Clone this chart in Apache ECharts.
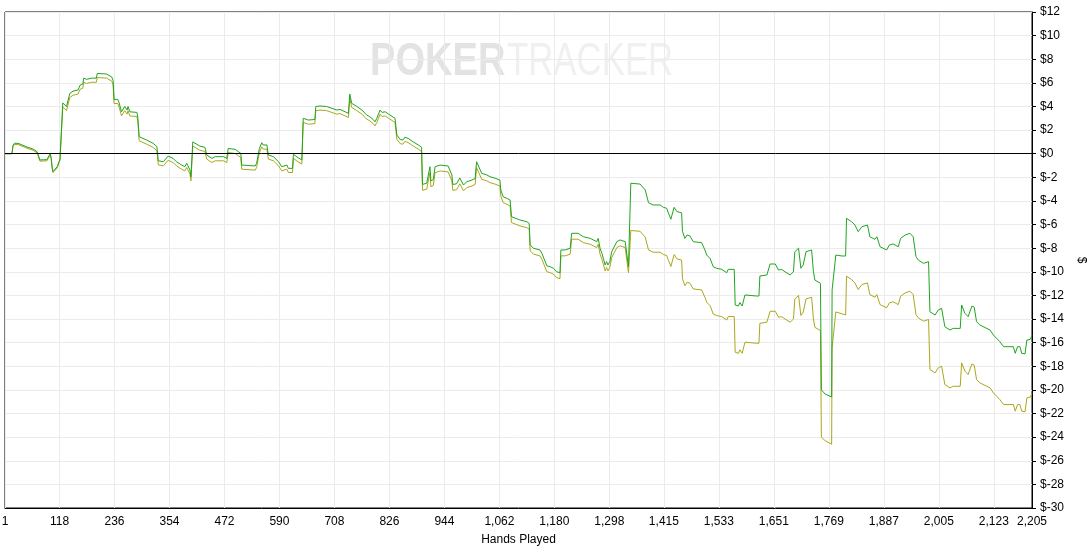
<!DOCTYPE html>
<html>
<head>
<meta charset="utf-8">
<script src="https://cdn.jsdelivr.net/npm/echarts@6/dist/echarts.min.js"></script>
<style>
html,body{margin:0;padding:0;background:#fff;}
#chart{width:1089px;height:547px;}
</style>
</head>
<body>
<div id="chart"></div>
<script>
// Hand ticks shown on the x axis
const xTicks = [1,118,236,354,472,590,708,826,944,1062,1180,1298,1415,1533,1651,1769,1887,2005,2123,2205];
// Y axis range / step ($)
const yMin = -30, yMax = 12, yStep = 2;

// Green line: [hand, $]
const netWon = [[1,0],[16,0],[18,0.7],[21,0.88],[29,0.88],[48,0.57],[61,0.4],[70,0.17],[76,-0.53],[91,-0.5],[98,0],[100,-0.3],[102,-1.1],[104,-1.5],[113,-1.1],[119,-0.45],[123,-0.5],[125,4.3],[133,4.0],[136,3.9],[140,5.1],[147,5.3],[158,5.4],[162,5.8],[168,5.9],[170,6.4],[176,6.3],[187,6.4],[197,6.4],[199,6.8],[219,6.75],[230,6.5],[233,6.2],[235,4.6],[243,4.6],[246,4.3],[251,3.55],[258,4.0],[263,3.7],[265,4.0],[269,3.55],[284,3.5],[286,3.1],[289,1.44],[305,1.16],[319,0.88],[327,0.6],[330,-0.6],[341,-0.68],[351,-0.2],[362,-0.4],[369,-0.68],[380,-0.96],[387,-1.1],[391,-0.81],[398,-1.38],[400,-1.95],[404,1.0],[419,0.65],[430,0.54],[434,-0.1],[445,-0.4],[452,-0.25],[470,-0.25],[477,-0.4],[480,0.45],[495,0.37],[502,0.17],[507,0.03],[509,-0.96],[538,-1.04],[541,-0.81],[547,0.45],[552,0.93],[555,0.74],[563,0.74],[566,-0.1],[577,-0.25],[588,-0.68],[595,-1.1],[606,-0.96],[609,-1.24],[618,-1.24],[620,-0.05],[630,-0.34],[638,-0.53],[641,3.0],[652,2.85],[666,2.9],[668,4.0],[677,4.04],[691,4.0],[713,3.7],[720,3.75],[731,3.55],[738,3.42],[741,5.05],[745,4.27],[756,4.0],[767,3.7],[777,3.28],[784,3.13],[791,2.9],[795,2.7],[799,3.0],[806,3.7],[810,3.5],[817,3.55],[827,3.28],[838,3.0],[842,1.58],[849,1.2],[855,1.16],[859,1.39],[866,1.3],[877,1.0],[888,0.74],[895,0.54],[897,-2.6],[906,-2.5],[913,-1.1],[915,-2.3],[920,-2.2],[924,-1.1],[935,-0.96],[952,-1.04],[956,-1.1],[960,-1.8],[962,-2.6],[970,-2.55],[977,-2.05],[985,-2.65],[992,-2.37],[1003,-2.23],[1010,-2.1],[1013,-0.68],[1024,-1.66],[1035,-1.8],[1042,-1.95],[1053,-2.08],[1063,-2.23],[1065,-3.07],[1070,-3.64],[1078,-3.78],[1085,-3.92],[1088,-5.33],[1092,-5.47],[1106,-5.61],[1121,-5.76],[1126,-5.9],[1128,-7.73],[1135,-8.0],[1149,-8.15],[1153,-8.43],[1164,-9.5],[1171,-9.57],[1178,-9.7],[1185,-10.0],[1192,-10.08],[1194,-8.15],[1203,-8.15],[1214,-8.0],[1217,-6.74],[1221,-6.6],[1231,-6.74],[1242,-7.03],[1257,-7.17],[1271,-7.45],[1274,-7.17],[1278,-8.0],[1282,-8.43],[1285,-8.85],[1289,-9.42],[1292,-9.14],[1295,-9.42],[1299,-9.14],[1303,-8.3],[1306,-8.2],[1314,-7.45],[1321,-7.3],[1332,-7.45],[1335,-7.3],[1339,-9.57],[1342,-9.6],[1344,-2.5],[1364,-2.57],[1368,-2.7],[1375,-3.07],[1382,-4.15],[1392,-4.34],[1407,-4.34],[1414,-4.54],[1421,-4.62],[1425,-5.05],[1430,-5.55],[1434,-5.61],[1437,-4.54],[1443,-4.9],[1453,-5.0],[1455,-6.6],[1460,-7.17],[1465,-6.88],[1471,-6.97],[1478,-7.45],[1496,-7.53],[1503,-8.15],[1507,-8.58],[1514,-8.86],[1521,-9.57],[1528,-9.7],[1539,-9.79],[1550,-10.08],[1553,-9.79],[1566,-9.79],[1568,-12.81],[1575,-12.9],[1578,-12.6],[1583,-12.9],[1589,-11.96],[1614,-12.05],[1619,-12.05],[1621,-10.36],[1636,-10.27],[1643,-9.34],[1654,-9.34],[1661,-9.85],[1668,-9.8],[1675,-10.0],[1686,-10.27],[1693,-10.0],[1696,-8.3],[1704,-8.0],[1706,-7.93],[1709,-9.7],[1714,-9.42],[1720,-8.3],[1732,-8.15],[1736,-10.0],[1739,-10.7],[1751,-10.97],[1753,-20.0],[1761,-20.35],[1775,-20.6],[1776,-11.54],[1784,-8.58],[1797,-8.66],[1805,-8.66],[1807,-5.47],[1818,-5.76],[1825,-6.04],[1832,-6.6],[1840,-6.18],[1843,-6.04],[1852,-6.04],[1857,-7.03],[1868,-7.25],[1872,-7.03],[1879,-7.88],[1893,-8.15],[1899,-7.73],[1907,-7.64],[1918,-7.88],[1923,-7.17],[1933,-6.88],[1943,-6.74],[1950,-7.03],[1956,-8.72],[1961,-9.0],[1972,-9.28],[1983,-9.14],[1986,-13.38],[1997,-13.66],[2004,-13.23],[2011,-13.09],[2018,-14.65],[2029,-14.93],[2036,-14.79],[2051,-14.79],[2054,-12.81],[2061,-13.51],[2068,-13.8],[2076,-12.9],[2081,-13.0],[2086,-14.22],[2093,-14.5],[2115,-14.93],[2122,-15.35],[2129,-15.63],[2136,-15.92],[2144,-16.34],[2165,-16.34],[2169,-16.9],[2174,-16.34],[2179,-16.34],[2183,-16.9],[2190,-16.95],[2194,-15.78],[2201,-15.72],[2205,-15.4]];

// Olive line: [hand, $]
const allInAdj = [[1,0],[16,0],[18,0.6],[21,0.78],[29,0.78],[48,0.47],[61,0.3],[70,0.07],[76,-0.63],[91,-0.6],[98,-0.1],[100,-0.4],[102,-1.2],[104,-1.6],[113,-1.2],[119,-0.55],[123,-0.6],[125,3.95],[133,3.65],[136,3.55],[140,4.75],[147,4.95],[158,5.05],[162,5.45],[168,5.55],[170,6.05],[176,5.95],[187,6.05],[197,6.05],[199,6.45],[219,6.4],[230,6.15],[233,5.85],[235,4.25],[243,4.25],[246,3.95],[251,3.2],[258,3.65],[263,3.35],[265,3.65],[269,3.2],[284,3.15],[286,2.75],[289,1.09],[305,0.81],[319,0.53],[327,0.25],[330,-0.95],[341,-1.03],[351,-0.55],[362,-0.75],[369,-1.03],[380,-1.31],[387,-1.45],[391,-1.16],[398,-1.73],[400,-2.3],[404,0.65],[419,0.3],[430,0.19],[434,-0.45],[445,-0.75],[452,-0.6],[470,-0.6],[477,-0.75],[480,0.1],[495,0.02],[502,-0.18],[507,-0.32],[509,-1.31],[538,-1.39],[541,-1.16],[547,0.1],[552,0.58],[555,0.39],[563,0.39],[566,-0.45],[577,-0.6],[588,-1.03],[595,-1.45],[606,-1.31],[609,-1.59],[618,-1.59],[620,-0.4],[630,-0.69],[638,-0.88],[641,2.65],[652,2.5],[666,2.55],[668,3.65],[677,3.69],[691,3.65],[713,3.35],[720,3.4],[731,3.2],[738,3.07],[741,4.7],[745,3.92],[756,3.65],[767,3.35],[777,2.93],[784,2.78],[791,2.55],[795,2.35],[799,2.65],[806,3.35],[810,3.15],[817,3.2],[827,2.93],[838,2.65],[842,1.23],[849,0.85],[855,0.81],[859,1.04],[866,0.95],[877,0.65],[888,0.39],[895,0.19],[897,-3.1],[906,-3.0],[913,-1.6],[915,-2.8],[920,-2.7],[924,-1.6],[935,-1.46],[952,-1.54],[956,-1.6],[960,-2.3],[962,-3.1],[970,-3.05],[977,-2.55],[985,-3.15],[992,-2.87],[1003,-2.73],[1010,-2.6],[1013,-1.18],[1024,-2.16],[1035,-2.3],[1042,-2.45],[1053,-2.58],[1063,-2.73],[1065,-3.57],[1070,-4.14],[1078,-4.28],[1085,-4.42],[1088,-5.83],[1092,-5.97],[1106,-6.11],[1121,-6.26],[1126,-6.4],[1128,-8.23],[1135,-8.5],[1149,-8.65],[1153,-8.93],[1164,-10.0],[1171,-10.07],[1178,-10.2],[1185,-10.5],[1192,-10.58],[1194,-8.65],[1203,-8.65],[1214,-8.5],[1217,-7.24],[1221,-7.1],[1231,-7.24],[1242,-7.53],[1257,-7.67],[1271,-7.95],[1274,-7.67],[1278,-8.5],[1282,-8.93],[1285,-9.35],[1289,-9.92],[1292,-9.64],[1295,-9.92],[1299,-9.64],[1303,-8.8],[1306,-8.7],[1314,-7.95],[1321,-7.8],[1332,-7.95],[1335,-7.8],[1339,-10.07],[1342,-10.1],[1344,-6.5],[1364,-6.57],[1368,-6.7],[1375,-7.07],[1382,-8.15],[1392,-8.34],[1407,-8.34],[1414,-8.54],[1421,-8.62],[1425,-9.05],[1430,-9.55],[1434,-9.61],[1437,-8.54],[1443,-8.9],[1453,-9.0],[1455,-10.6],[1460,-11.17],[1465,-10.88],[1471,-10.97],[1478,-11.45],[1496,-11.53],[1503,-12.15],[1507,-12.58],[1514,-12.86],[1521,-13.57],[1528,-13.7],[1539,-13.79],[1550,-14.08],[1553,-13.79],[1566,-13.79],[1568,-16.81],[1575,-16.9],[1578,-16.6],[1583,-16.9],[1589,-15.96],[1614,-16.05],[1619,-16.05],[1621,-14.36],[1636,-14.27],[1643,-13.34],[1654,-13.34],[1661,-13.85],[1668,-13.8],[1675,-14.0],[1686,-14.27],[1693,-14.0],[1696,-12.3],[1704,-12.0],[1706,-11.93],[1709,-13.7],[1714,-13.42],[1720,-12.3],[1732,-12.15],[1736,-14.0],[1739,-14.7],[1751,-14.97],[1753,-24.0],[1761,-24.3],[1775,-24.6],[1776,-16.45],[1784,-13.4],[1797,-13.55],[1805,-13.66],[1807,-10.37],[1818,-10.66],[1825,-10.94],[1832,-11.5],[1840,-11.08],[1843,-10.94],[1852,-10.94],[1857,-11.93],[1868,-12.15],[1872,-11.93],[1879,-12.78],[1893,-13.05],[1899,-12.63],[1907,-12.54],[1918,-12.78],[1923,-12.07],[1933,-11.78],[1943,-11.64],[1950,-11.93],[1956,-13.62],[1961,-13.9],[1972,-14.18],[1983,-14.04],[1986,-18.28],[1997,-18.56],[2004,-18.13],[2011,-17.99],[2018,-19.55],[2029,-19.83],[2036,-19.69],[2051,-19.69],[2054,-17.71],[2061,-18.41],[2068,-18.7],[2076,-17.8],[2081,-17.9],[2086,-19.12],[2093,-19.4],[2115,-19.83],[2122,-20.25],[2129,-20.53],[2136,-20.82],[2144,-21.24],[2165,-21.24],[2169,-21.8],[2174,-21.24],[2179,-21.24],[2183,-21.8],[2190,-21.85],[2194,-20.68],[2201,-20.62],[2205,-20.3]];

const chart = echarts.init(document.getElementById('chart'), null, {renderer: 'canvas'});
const font = 'Liberation Sans';
const gridColor = '#ebebeb';

chart.setOption({
  animation: false,
  backgroundColor: '#ffffff',
  textStyle: {fontFamily: font},
  grid: {
    left: 5, right: 57, top: 12, bottom: 39,
    show: true, borderColor: '#000', borderWidth: 1, backgroundColor: 'transparent',
    containLabel: false, outerBoundsMode: 'none'
  },
  graphic: [
    {type: 'text', z: 0, left: 370, top: 39, scaleX: 0.81,
     style: {text: 'POKER', font: 'bold 47px "Liberation Sans"', fill: '#e3e3e3'}},
    {type: 'text', z: 0, left: 507, top: 39, scaleX: 0.74,
     style: {text: 'TRACKER', font: '47px "Liberation Sans"', fill: '#f0f0f0'}}
  ],
  xAxis: {
    type: 'value', min: 1, max: 2205,
    name: 'Hands Played', nameLocation: 'middle', nameGap: 26,
    nameTextStyle: {color: '#000', fontSize: 12, fontFamily: font},
    axisLine: {show: true, onZero: false, lineStyle: {color: '#000', width: 1}},
    axisTick: {show: false, customValues: xTicks},
    axisLabel: {
      customValues: xTicks, color: '#000', fontSize: 12, fontFamily: font, margin: 8,
      formatter: v => Number(v).toLocaleString('en-US')
    },
    splitLine: {show: true, lineStyle: {color: gridColor, width: 1}}
  },
  yAxis: {
    type: 'value', position: 'right', min: yMin, max: yMax, interval: yStep,
    name: '$', nameLocation: 'middle', nameGap: 37, nameRotate: -90,
    nameTextStyle: {color: '#000', fontSize: 12, fontFamily: font},
    axisLine: {show: true, lineStyle: {color: '#000', width: 1}},
    axisTick: {show: true, length: 4, inside: false, lineStyle: {color: '#000'}},
    axisLabel: {color: '#000', fontSize: 12, fontFamily: font, margin: 8, formatter: v => '$' + v},
    splitLine: {show: true, lineStyle: {color: gridColor, width: 1}}
  },
  series: [
    {
      name: 'All-in Adj', type: 'line', data: allInAdj, showSymbol: false, symbol: 'none',
      lineStyle: {color: '#aca71c', width: 1}, itemStyle: {color: '#aca71c'}, z: 3,
      markLine: {
        silent: true, symbol: 'none', label: {show: false},
        lineStyle: {color: '#000', width: 1, type: 'solid'},
        data: [{yAxis: 0}]
      }
    },
    {
      name: 'Net Won', type: 'line', data: netWon, showSymbol: false, symbol: 'none',
      lineStyle: {color: '#1fa51f', width: 1}, itemStyle: {color: '#1fa51f'}, z: 4
    }
  ]
});
</script>
</body>
</html>
